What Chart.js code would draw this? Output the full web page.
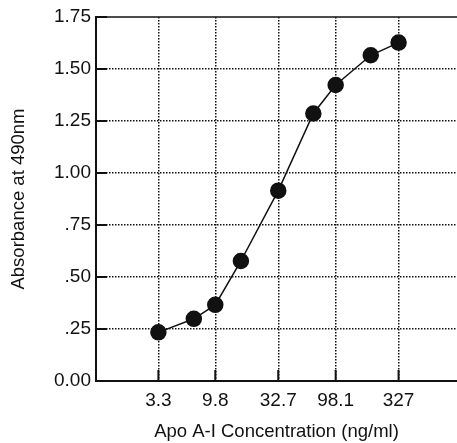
<!DOCTYPE html>
<html>
<head>
<meta charset="utf-8">
<script src="https://cdn.jsdelivr.net/npm/chart.js@4"></script>
<style>
  body { margin: 0; background: #fff; }
  #wrap { width: 457px; height: 443px; }
</style>
</head>
<body>
<div id="wrap"><canvas id="chart" width="457" height="443"></canvas></div>
<script>
// concentration (ng/ml) and absorbance
const concentrations = [3.3, 6.5, 9.8, 16, 32.7, 64, 98.1, 192, 327]
const absorbance = [0.234, 0.299, 0.366, 0.577, 0.915, 1.286, 1.423, 1.566, 1.627]

const xTickValues = [3.3, 9.8, 32.7, 98.1, 327]
const xTickLabels = ["3.3", "9.8", "32.7", "98.1", "327"]
const yTickLabels = ["0.00", ".25", ".50", ".75", "1.00", "1.25", "1.50", "1.75"]

const FONT = "'Liberation Sans', Arial, Helvetica, sans-serif"
const INK = "#111"

// inner tick marks and solid top frame line
const frame = {
    id: "frame",
    afterDraw(chart) {
        const {ctx, chartArea, scales} = chart
        ctx.save()
        ctx.strokeStyle = INK
        ctx.lineWidth = 2
        ctx.beginPath()
        scales.x.ticks.forEach(t => {
            const px = scales.x.getPixelForValue(t.value)
            ctx.moveTo(px, chartArea.bottom)
            ctx.lineTo(px, chartArea.bottom - 11)
        })
        scales.y.ticks.forEach(t => {
            const py = scales.y.getPixelForValue(t.value)
            ctx.moveTo(chartArea.left, py)
            ctx.lineTo(chartArea.left + 11, py)
        })
        ctx.stroke()
        ctx.lineWidth = 1.5
        ctx.beginPath()
        ctx.moveTo(chartArea.left, chartArea.top)
        ctx.lineTo(chartArea.right, chartArea.top)
        ctx.stroke()
        ctx.restore()
    }
}

new Chart(document.getElementById("chart"), {
    type: "line",
    data: {
        datasets: [{
            data: concentrations.map((c, i) => ({x: c, y: absorbance[i]})),
            borderColor: INK,
            borderWidth: 1.5,
            backgroundColor: INK,
            pointBackgroundColor: INK,
            pointBorderColor: INK,
            pointRadius: 7.5,
            tension: 0
        }]
    },
    options: {
        responsive: false,
        animation: false,
        layout: {autoPadding: false, padding: {top: 17, right: 0, left: 0, bottom: 0}},
        plugins: {legend: {display: false}, tooltip: {enabled: false}},
        scales: {
            x: {
                type: "logarithmic",
                min: 1,
                max: 1000,
                afterBuildTicks: scale => {
                    scale.ticks = xTickValues.map(v => ({value: v}))
                },
                afterFit: scale => {
                    scale.height = 62
                    scale.paddingLeft = 0
                    scale.paddingRight = 0
                },
                ticks: {
                    autoSkip: false,
                    maxRotation: 0,
                    padding: 8,
                    color: INK,
                    font: {family: FONT, size: 19},
                    callback: (v, i) => xTickLabels[i]
                },
                grid: {
                    color: INK,
                    lineWidth: 1.5,
                    drawTicks: false
                },
                border: {color: INK, width: 2, dash: [1.5, 1.5]},
                title: {
                    display: true,
                    text: "Apo A-I Concentration (ng/ml)",
                    color: INK,
                    font: {family: FONT, size: 18.5},
                    padding: {top: 0, bottom: 0}
                }
            },
            y: {
                min: 0,
                max: 1.75,
                afterFit: scale => { scale.width = 96 },
                ticks: {
                    stepSize: 0.25,
                    padding: 5,
                    color: INK,
                    font: {family: FONT, size: 19},
                    callback: (v, i) => yTickLabels[i]
                },
                grid: {
                    color: ctx => ctx.tick && ctx.tick.value === 1.75 ? "rgba(0,0,0,0)" : INK,
                    lineWidth: 1.5,
                    drawTicks: false
                },
                border: {color: INK, width: 2, dash: [1.5, 1.5]},
                title: {
                    display: true,
                    text: "Absorbance at 490nm",
                    color: INK,
                    font: {family: FONT, size: 18.5},
                    padding: {top: 8, bottom: 0}
                }
            }
        }
    },
    plugins: [frame]
})
</script>
</body>
</html>
